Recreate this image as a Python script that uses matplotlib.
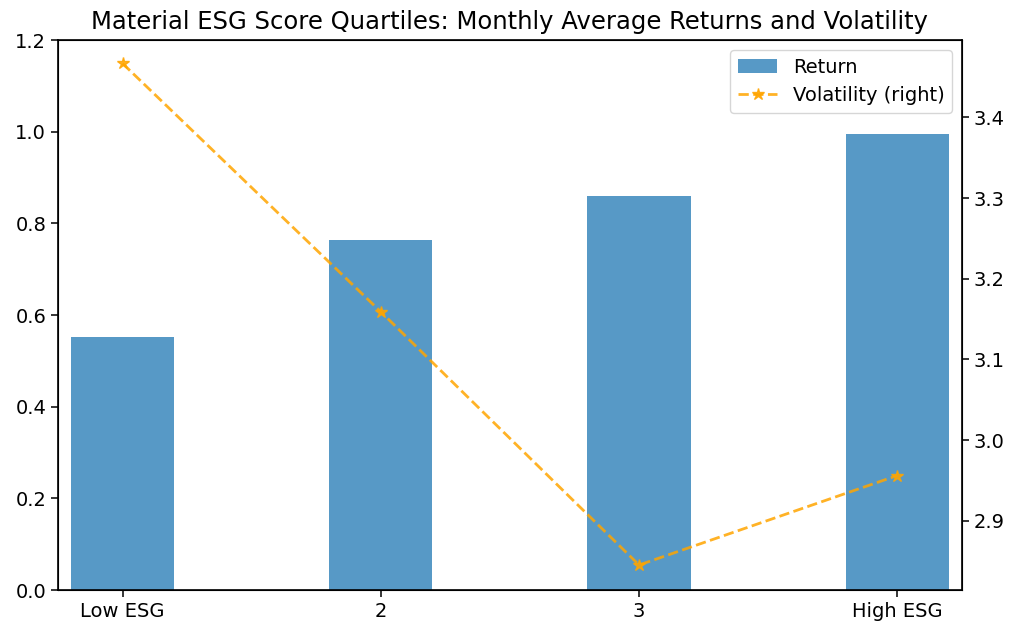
import matplotlib

matplotlib.use("Agg")
import matplotlib.pyplot as plt

categories = ["Low ESG", "2", "3", "High ESG"]
returns = [0.552, 0.764, 0.860, 0.994]
volatility = [3.467, 3.159, 2.845, 2.956]

fig = plt.figure(figsize=(10.1, 6.26), dpi=100)
ax = fig.add_axes([0.0574, 0.0575, 0.895, 0.8785])
pos = list(range(len(categories)))
ax.bar(pos, returns, width=0.4, color="#1f77b4", alpha=0.75, label="Return")
ax.set_xlim(-0.25, 3.25)
ax.set_ylim(0, 1.2)
ax.set_xticks(pos)
ax.set_xticklabels(categories)
ax.tick_params(labelsize=14, length=5, width=1.1)
for s in ax.spines.values():
    s.set_linewidth(1.2)

ax2 = ax.twinx()
ax2.plot(pos, volatility, color="orange", linestyle="--", marker="*",
         markersize=9, linewidth=2.0, alpha=0.85, label="Volatility (right)")
ax2.set_ylim(2.814, 3.496)
ax2.set_yticks([2.9, 3.0, 3.1, 3.2, 3.3, 3.4])
ax2.tick_params(labelsize=14, length=5, width=1.1)

h1, l1 = ax.get_legend_handles_labels()
h2, l2 = ax2.get_legend_handles_labels()
ax2.legend(h1 + h2, l1 + l2, loc="upper right", fontsize=14)

ax.set_title("Material ESG Score Quartiles: Monthly Average Returns and Volatility",
             fontsize=17.5, pad=8)

fig.savefig("out.png", dpi=100)
